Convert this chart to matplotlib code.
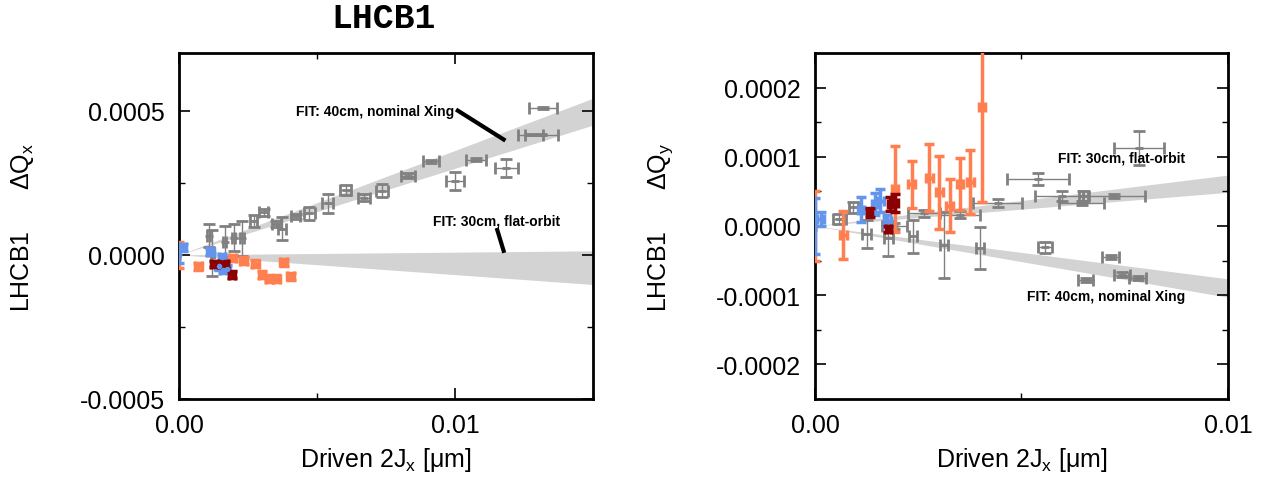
import numpy as np
import matplotlib
matplotlib.use('Agg')
import matplotlib.pyplot as plt
from matplotlib.ticker import FixedLocator, FormatStrFormatter

plt.rcParams['font.family'] = ['Liberation Sans', 'DejaVu Sans']
plt.rcParams['mathtext.default'] = 'regular'
plt.rcParams['axes.unicode_minus'] = False

# ---- left panel (Delta Qx) ----
lx_grey = [0.01319, 0.01274, 0.01313, 0.00913, 0.01076, 0.01185, 0.0100, 0.00829, 0.00736, 0.0067,
           0.00604, 0.00539, 0.00472, 0.00422, 0.00373, 0.00352, 0.00307, 0.0027, 0.00228, 0.00198,
           0.00165, 0.00121, 0.00107]
ly_grey = [0.000509, 0.000417, 0.000417, 0.000325, 0.00033, 0.000302, 0.000256, 0.000275, 0.000222, 0.000198,
           0.000225, 0.000178, 0.000144, 0.000134, 0.00009, 0.000107, 0.000147, 0.000117, 0.000057, 0.00006,
           0.000046, 0.000006, 0.000066]
lxe_grey = [0.00052, 0.00046, 0.0006, 0.00029, 0.00035, 0.00042, 0.00033, 0.00026, 0.00022, 0.00021,
            0.0002, 0.0002, 0.00019, 0.00018, 0.00014, 0.00016, 0.00016, 0.00014, 0.00007, 0.00006,
            0.00006, 0.00006, 0.00006]
lye_grey = [0.000003, 0.000003, 0.000003, 0.000005, 0.000005, 0.000031, 0.000032, 0.000008, 0.000022, 0.000013,
            0.000016, 0.000032, 0.000022, 0.000009, 0.00004, 0.000012, 0.000012, 0.000022, 0.00006, 0.000046,
            0.000055, 0.00008, 0.00004]

lx_orange = [0.0, 0.0007, 0.00194, 0.00234, 0.00276, 0.003, 0.00327, 0.00353, 0.00379, 0.00404]
ly_orange = [0.0, -0.00004, -0.000011, -0.00002, -0.000031, -0.000069, -0.000083, -0.000083, -0.000026, -0.000075]
lye_orange = [0.000046, 0.000012, 0.000012, 0.000012, 0.000012, 0.000012, 0.000012, 0.000012, 0.000012, 0.000012]
lxe_orange = [0.0, 0.00012, 0.00012, 0.00012, 0.00012, 0.00012, 0.00012, 0.00012, 0.00012, 0.00012]

lx_blue = [0.0, 0.00013, 0.00113, 0.00155, 0.00143, 0.00161, 0.00173]
ly_blue = [0.0, 0.000026, 0.000011, -0.000009, -0.00004, -0.000052, -0.000049]
lye_blue = [0.00003, 0.000012, 0.000012, 0.000012, 0.000012, 0.000012, 0.000012]
lxe_blue = [0.0, 0.00012, 0.00012, 0.00012, 0.00012, 0.00012, 0.00012]

lx_red = [0.00128, 0.00165, 0.00192]
ly_red = [-0.000032, -0.000032, -0.000069]
lye_red = [0.000012, 0.000012, 0.000012]
lxe_red = [0.00012, 0.00012, 0.00012]

# fit bands (from origin to right edge)
lfit_x = [0.0, 0.015]
lfit40_lo = [0.0, 0.00045]
lfit40_hi = [0.0, 0.000543]
lfit30_lo = [0.0, -0.000103]
lfit30_hi = [0.0, 0.0000138]

# ---- right panel (Delta Qy) ----
rx_grey = [0.00784, 0.00541, 0.00598, 0.00650, 0.00723, 0.00646, 0.00442, 0.00264, 0.0035, 0.00192,
           0.00093, 0.00059, 0.00125, 0.00178, 0.00238, 0.00313, 0.004, 0.00557, 0.00716, 0.00743,
           0.00781, 0.00656]
ry_grey = [0.0001125, 0.0000678, 0.0000437, 0.0000437, 0.0000437, 0.0000332, 0.0000332, 0.0000183, 0.0000163, 0.0,
           0.000027, 0.00001, -0.0000115, -0.0000178, -0.0000149, -0.0000274, -0.000032, -0.0000308, -0.0000452, -0.0000702,
           -0.0000755, -0.0000779]
rxe_grey = [0.0006, 0.00075, 0.00065, 0.0001, 0.00075, 0.00055, 0.0006, 0.00038, 0.0005, 0.0003,
            0.0001, 0.00015, 0.0001, 0.0001, 0.0001, 0.0001, 0.0001, 0.00016, 0.0002, 0.0002,
            0.0002, 0.00018]
rye_grey = [0.000025, 0.0000087, 0.000007, 0.000007, 0.000003, 0.000003, 0.000006, 0.000005, 0.000005, 0.000005,
            0.000008, 0.000007, 0.00002, 0.000025, 0.000024, 0.000048, 0.00003, 0.000008, 0.000003, 0.000003,
            0.000003, 0.000003]

rx_orange = [0.0, 0.00069, 0.00194, 0.00234, 0.00277, 0.00301, 0.00326, 0.00351, 0.00376, 0.00404]
ry_orange = [0.0, -0.000013, 0.0000534, 0.0000606, 0.00007, 0.0000486, 0.0000293, 0.0000606, 0.000064, 0.0001726]
rye_orange = [0.00005, 0.000034, 0.0000625, 0.000034, 0.000048, 0.000053, 0.000038, 0.000037, 0.000046, 0.000138]
rxe_orange = [0.0, 0.00008, 0.00008, 0.00008, 0.00008, 0.00008, 0.00008, 0.00008, 0.00008, 0.00008]

rx_blue = [0.0, 0.00014, 0.00111, 0.00145, 0.00158, 0.00175]
ry_blue = [0.0, 0.00001, 0.0000236, 0.0000317, 0.0000365, 0.0000077]
rye_blue = [0.00004, 0.00001, 0.000018, 0.000016, 0.000017, 0.0000085]
rxe_blue = [0.0, 0.00008, 0.00008, 0.00008, 0.00008, 0.00008]

rx_red = [0.00133, 0.00178, 0.00182, 0.00194]
ry_red = [0.0000197, -0.0000043, 0.0000317, 0.0000332]
rye_red = [0.000007, 0.000004, 0.00001, 0.000013]
rxe_red = [0.00006, 0.00006, 0.00006, 0.00006]

rfit_x = [0.0, 0.01]
rfit30_lo = [0.0, 0.0000486]
rfit30_hi = [0.0, 0.0000736]
rfit40_lo = [0.0, -0.000103]
rfit40_hi = [0.0, -0.0000764]

GREY = '#808080'
ORANGE = '#ff7f50'
BLUE = '#6495ed'
DARKRED = '#8b0000'
BAND = '#d3d3d3'

fig = plt.figure(figsize=(12.61, 4.85), dpi=100)
axL = fig.add_axes([0.142, 0.1753, 0.3283, 0.7134])
axR = fig.add_axes([0.6463, 0.1753, 0.3275, 0.7134])


def draw_points(ax, x, y, xe, ye, color, thick):
    if thick:
        ax.errorbar(x, y, xerr=xe, yerr=ye, fmt='o', color=color, ms=3,
                    elinewidth=2.5, capsize=3.5, capthick=2.5, zorder=4)
    else:
        ax.errorbar(x, y, xerr=xe, yerr=ye, fmt='_', color=color, ms=6, mew=2,
                    elinewidth=1, capsize=4, capthick=1, zorder=3)


def style_axes(ax):
    for s in ax.spines.values():
        s.set_linewidth(2)
    ax.tick_params(which='both', direction='in', top=True, right=True,
                   labelsize=18, pad=10)
    ax.tick_params(which='major', length=8, width=1.2)
    ax.tick_params(which='minor', length=4, width=1)


# left
axL.fill_between(lfit_x, lfit40_lo, lfit40_hi, color=BAND, lw=0, zorder=1)
axL.fill_between(lfit_x, lfit30_lo, lfit30_hi, color=BAND, lw=0, zorder=1)
draw_points(axL, lx_grey, ly_grey, lxe_grey, lye_grey, GREY, False)
draw_points(axL, lx_orange, ly_orange, lxe_orange, lye_orange, ORANGE, True)
draw_points(axL, lx_blue, ly_blue, lxe_blue, lye_blue, BLUE, True)
draw_points(axL, lx_red, ly_red, lxe_red, lye_red, DARKRED, True)
axL.set_xlim(0, 0.015)
axL.set_ylim(-0.0005, 0.0007)
axL.xaxis.set_major_locator(FixedLocator([0.0, 0.01]))
axL.xaxis.set_minor_locator(FixedLocator([0.005]))
axL.yaxis.set_major_locator(FixedLocator([-0.0005, 0.0, 0.0005]))
axL.yaxis.set_minor_locator(FixedLocator([-0.00025, 0.00025]))
axL.xaxis.set_major_formatter(FormatStrFormatter('%.2f'))
axL.yaxis.set_major_formatter(FormatStrFormatter('%.4f'))
style_axes(axL)
axL.set_xlabel('Driven 2J$_x$ [\u03bcm]', fontsize=18, labelpad=6)
axL.set_ylabel('LHCB1      \u0394Q$_x$', fontsize=18)
axL.yaxis.set_label_coords(-0.345, 0.5)

# annotation labels with pointer lines
axL.text(0.00998, 0.0005, 'FIT: 40cm, nominal Xing', fontsize=10, fontweight='bold',
         ha='right', va='center', zorder=5)
axL.plot([0.0101, 0.01176], [0.0005, 0.0004], color='black', lw=3, zorder=5)
axL.text(0.0115, 0.000118, 'FIT: 30cm, flat-orbit', fontsize=10, fontweight='bold',
         ha='center', va='center', zorder=5)
axL.plot([0.01153, 0.01176], [0.000086, 0.0000138], color='black', lw=3, zorder=5)

# right
axR.fill_between(rfit_x, rfit30_lo, rfit30_hi, color=BAND, lw=0, zorder=1)
axR.fill_between(rfit_x, rfit40_lo, rfit40_hi, color=BAND, lw=0, zorder=1)
draw_points(axR, rx_grey, ry_grey, rxe_grey, rye_grey, GREY, False)
draw_points(axR, rx_orange, ry_orange, rxe_orange, rye_orange, ORANGE, True)
draw_points(axR, rx_blue, ry_blue, rxe_blue, rye_blue, BLUE, True)
draw_points(axR, rx_red, ry_red, rxe_red, rye_red, DARKRED, True)
axR.set_xlim(0, 0.01)
axR.set_ylim(-0.00025, 0.00025)
axR.xaxis.set_major_locator(FixedLocator([0.0, 0.01]))
axR.xaxis.set_minor_locator(FixedLocator([0.005]))
axR.yaxis.set_major_locator(FixedLocator([-0.0002, -0.0001, 0.0, 0.0001, 0.0002]))
axR.yaxis.set_minor_locator(FixedLocator([-0.00015, -0.00005, 0.00005, 0.00015]))
axR.xaxis.set_major_formatter(FormatStrFormatter('%.2f'))
axR.yaxis.set_major_formatter(FormatStrFormatter('%.4f'))
style_axes(axR)
axR.set_xlabel('Driven 2J$_x$ [\u03bcm]', fontsize=18, labelpad=6)
axR.set_ylabel('LHCB1      \u0394Q$_y$', fontsize=18)
axR.yaxis.set_label_coords(-0.34, 0.5)
axR.text(0.00742, 0.000099, 'FIT: 30cm, flat-orbit', fontsize=10, fontweight='bold',
         ha='center', va='center', zorder=5)
axR.text(0.00704, -0.0001014, 'FIT: 40cm, nominal Xing', fontsize=10, fontweight='bold',
         ha='center', va='center', zorder=5)

fig.text(384 / 1261, 1 - 18 / 485, 'LHCB1', family=['Liberation Mono', 'DejaVu Sans Mono'],
         fontweight='bold', fontsize=25, ha='center', va='center')

fig.savefig('out.png', dpi=100)
